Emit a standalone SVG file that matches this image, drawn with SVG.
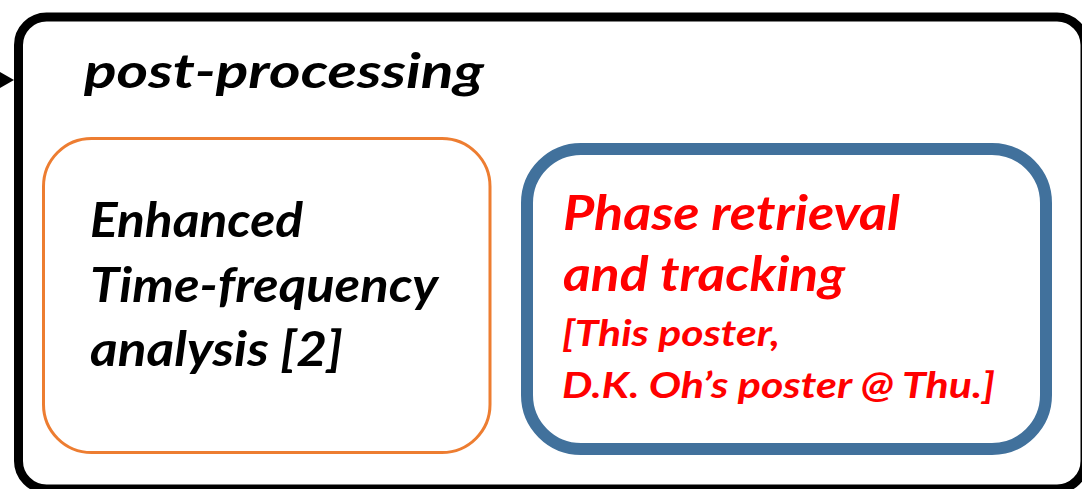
<svg xmlns="http://www.w3.org/2000/svg" width="1082" height="489" viewBox="0 0 1082 489">
  <style>
    .lbl { font-family: "Lato", "Open Sans", "Liberation Sans", sans-serif; font-weight: 700; font-style: italic; }
    .big { font-size: 48px; }
    .small { font-size: 36px; }
    .blk { fill: #000000; }
    .red { fill: #FF0000; }
  </style>
  <defs>
    <marker id="arrowHead" markerUnits="userSpaceOnUse" markerWidth="14" markerHeight="16" refX="6" refY="8" orient="auto">
      <path d="M0,0 L14,8 L0,16 Z" fill="#000000"/>
    </marker>
  </defs>

  <rect x="0" y="0" width="1082" height="489" fill="#FFFFFF"/>

  <!-- incoming connector -->
  <g id="connectors">
    <line x1="-30" y1="80" x2="6" y2="80" stroke="#000000" stroke-width="3" marker-end="url(#arrowHead)"/>
  </g>

  <!-- post-processing container -->
  <g id="post-processing">
    <rect x="18.5" y="17" width="1066.5" height="472" rx="28" ry="28" fill="none" stroke="#000000" stroke-width="9"/>
    <text class="lbl big blk" x="84" y="88" textLength="400" lengthAdjust="spacingAndGlyphs">post-processing</text>
  </g>

  <!-- time-frequency analysis block -->
  <g id="tf-analysis">
    <rect x="43.5" y="138.5" width="446.5" height="314" rx="48" ry="48" fill="none" stroke="#ED7D31" stroke-width="3"/>
    <text class="lbl big blk" x="90" y="237" textLength="213" lengthAdjust="spacingAndGlyphs">Enhanced</text>
    <text class="lbl big blk" x="90" y="302" textLength="348" lengthAdjust="spacingAndGlyphs">Time-frequency</text>
    <text class="lbl big blk" x="90" y="366" textLength="253" lengthAdjust="spacingAndGlyphs">analysis [2]</text>
  </g>

  <!-- phase retrieval block -->
  <g id="phase-retrieval">
    <rect x="527" y="149" width="519" height="300" rx="54" ry="54" fill="none" stroke="#41719C" stroke-width="12"/>
    <text class="lbl big red" x="563" y="230" textLength="337" lengthAdjust="spacingAndGlyphs">Phase retrieval</text>
    <text class="lbl big red" x="563" y="291" textLength="282" lengthAdjust="spacingAndGlyphs">and tracking</text>
    <text class="lbl small red" x="562" y="346" textLength="218" lengthAdjust="spacingAndGlyphs">[This poster,</text>
    <text class="lbl small red" x="562" y="398" textLength="433" lengthAdjust="spacingAndGlyphs">D.K. Oh’s poster @ Thu.]</text>
  </g>
</svg>
